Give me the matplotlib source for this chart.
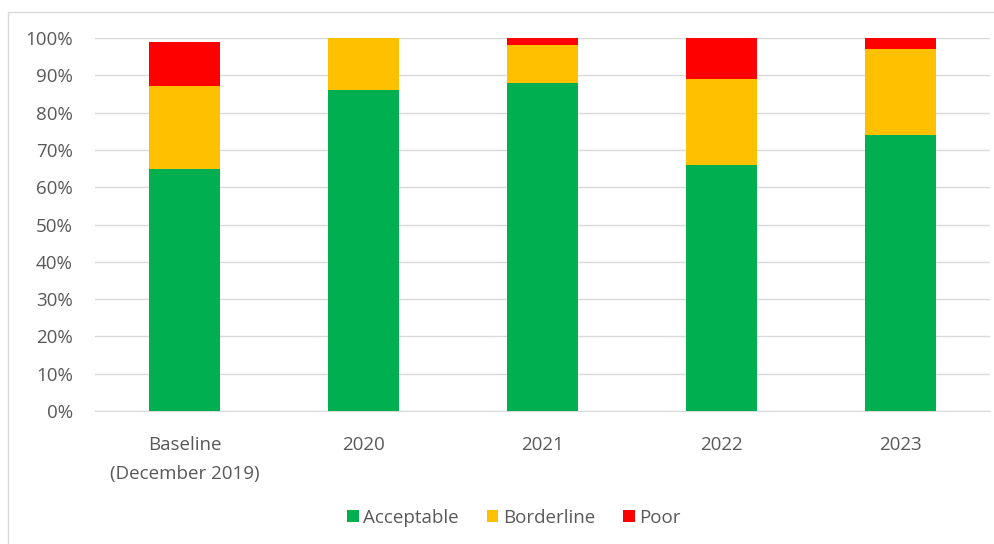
#!/usr/bin/env python3

import matplotlib

matplotlib.use("Agg")
import matplotlib.pyplot as plt
from matplotlib.patches import Rectangle
from matplotlib.ticker import PercentFormatter

categories = ["Baseline\n(December 2019)", "2020", "2021", "2022", "2023"]
acceptable = [65, 86, 88, 66, 74]
borderline = [22, 14, 10, 23, 23]
poor = [12, 0, 2, 11, 3]

plt.rcParams["font.family"] = ["Open Sans", "DejaVu Sans"]

W, H = 995, 544
fig = plt.figure(figsize=(W / 100, H / 100), dpi=100)
ax = fig.add_axes([95 / W, 1 - 411 / H, (990 - 95) / W, (411 - 38) / H])

# outer frame of the chart area
fig.patches.append(Rectangle((8 / W, -0.05), 1.1, 1 - 12 / H + 0.05, transform=fig.transFigure,
                             fill=False, edgecolor="#d9d9d9", linewidth=1.0))

x = range(len(categories))
width = 0.4
ax.bar(x, acceptable, width, color="#00b050", label="Acceptable", zorder=3)
ax.bar(x, borderline, width, bottom=acceptable, color="#ffc000", label="Borderline", zorder=3)
bottoms = [a + b for a, b in zip(acceptable, borderline)]
ax.bar(x, poor, width, bottom=bottoms, color="#ff0000", label="Poor", zorder=3)

ax.set_xlim(-0.5, len(categories) - 0.5)
ax.set_ylim(0, 100)
ax.set_yticks(range(0, 101, 10))
ax.yaxis.set_major_formatter(PercentFormatter(decimals=0))
ax.set_xticks(list(x))
ax.set_xticklabels(categories, linespacing=1.75)
ax.grid(axis="y", color="#d9d9d9", linewidth=1.0, zorder=0)
for side in ("top", "right", "left"):
    ax.spines[side].set_visible(False)
ax.spines["bottom"].set_color("#d9d9d9")
ax.tick_params(axis="both", length=0, colors="#595959", labelsize=13.5)
ax.tick_params(axis="y", pad=16)
ax.tick_params(axis="x", pad=18)

leg = fig.legend(loc="center", bbox_to_anchor=(514 / W, 1 - 518 / H), ncol=3, frameon=False,
                 fontsize=13.5, handlelength=0.6, handleheight=0.6, handletextpad=0.25,
                 columnspacing=1.5)
for t in leg.get_texts():
    t.set_color("#595959")

fig.savefig("out.png", dpi=100)
plt.close(fig)
